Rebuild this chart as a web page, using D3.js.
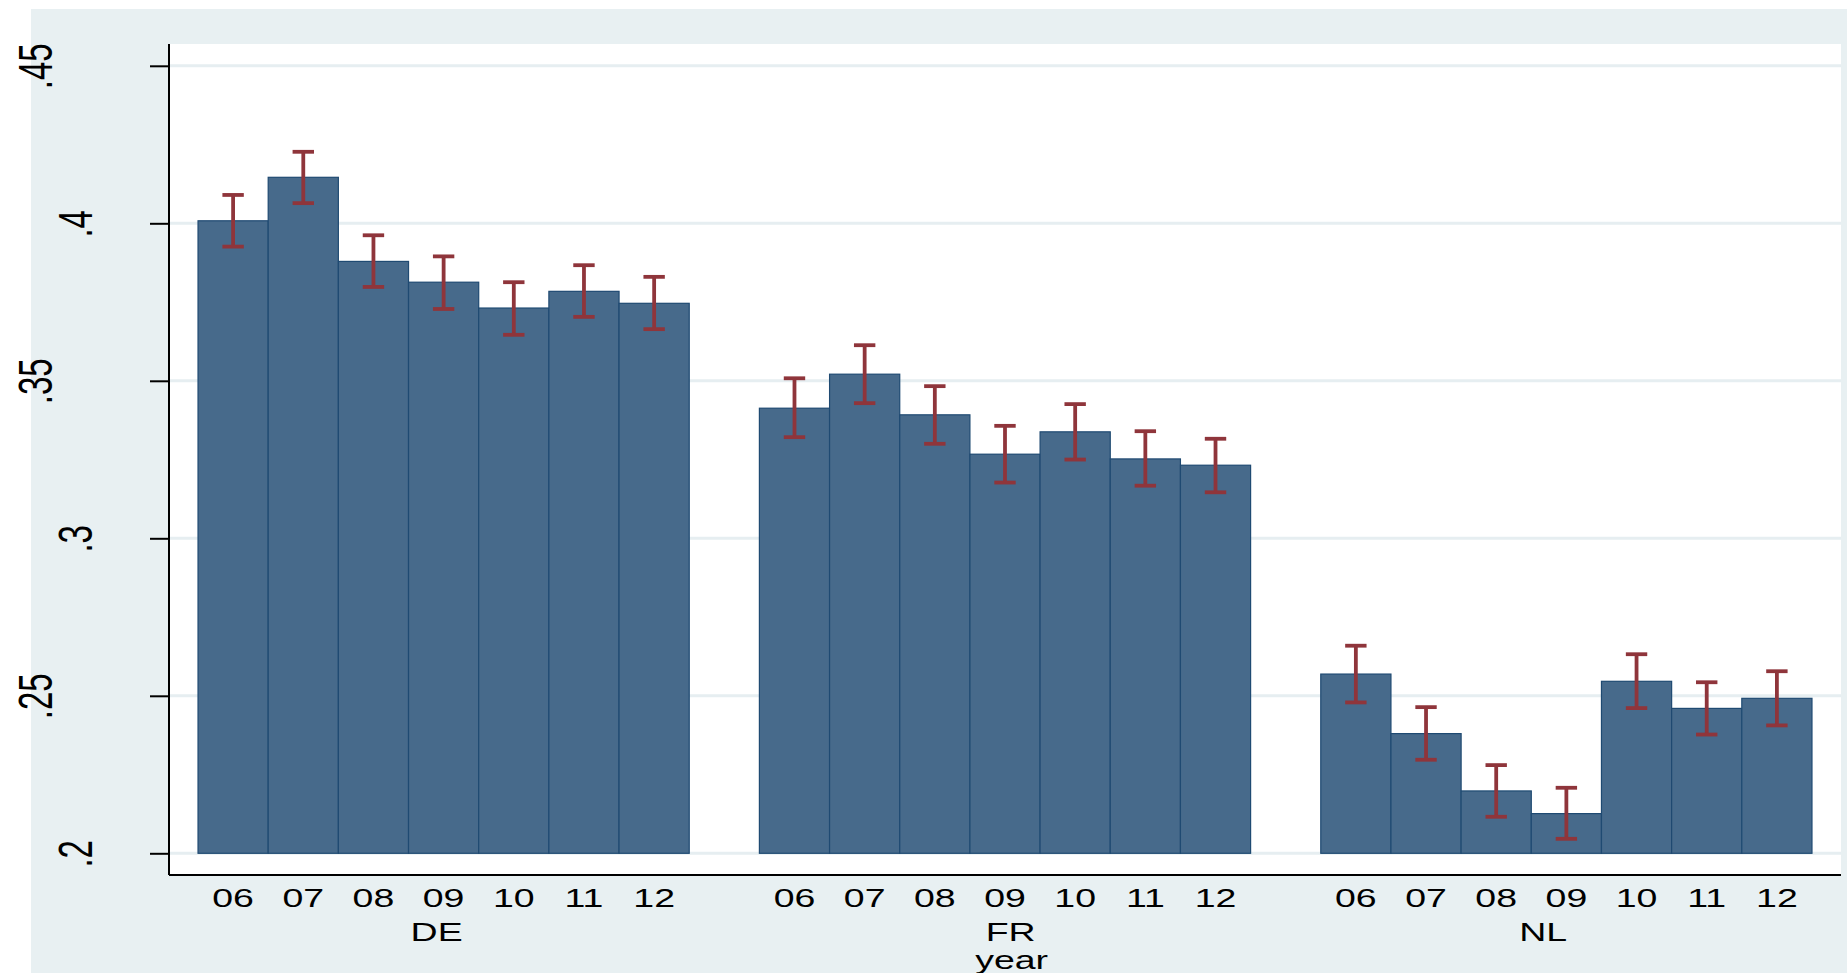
<!DOCTYPE html>
<html>
<head>
<meta charset="utf-8">
<script src="https://cdn.jsdelivr.net/npm/d3@7/dist/d3.min.js"></script>
<style>
  html, body { margin: 0; padding: 0; background: #ffffff; }
  svg { display: block; }
  text { font-family: "Liberation Sans", Arial, Helvetica, sans-serif; fill: #000; }
</style>
</head>
<body>
<svg id="chart" width="1847" height="973"></svg>
<script>
// Country groups and survey years
const countries = ["DE", "FR", "NL"];
const years = ["06", "07", "08", "09", "10", "11", "12"];

// Group means per year
const meanDE = [0.4008, 0.4146, 0.3879, 0.3813, 0.3731, 0.3784, 0.3746];
const meanFR = [0.3413, 0.3521, 0.3392, 0.3267, 0.3338, 0.3252, 0.3232];
const meanNL = [0.2569, 0.2380, 0.2198, 0.2126, 0.2546, 0.2460, 0.2492];

// Lower and upper confidence bounds
const lowDE = [0.3926, 0.4064, 0.3798, 0.3728, 0.3646, 0.3703, 0.3664];
const highDE = [0.4090, 0.4227, 0.3962, 0.3895, 0.3813, 0.3867, 0.3830];
const lowFR = [0.3321, 0.3429, 0.3300, 0.3177, 0.3250, 0.3167, 0.3146];
const highFR = [0.3508, 0.3613, 0.3483, 0.3357, 0.3426, 0.3340, 0.3316];
const lowNL = [0.2479, 0.2297, 0.2116, 0.2046, 0.2461, 0.2377, 0.2406];
const highNL = [0.2659, 0.2464, 0.2280, 0.2208, 0.2632, 0.2543, 0.2578];

// Y axis ticks and their labels
const yTicks = [0.2, 0.25, 0.3, 0.35, 0.4, 0.45];
const yTickLabels = [".2", ".25", ".3", ".35", ".4", ".45"];
const xTitle = "year";

const byCountry = {
  DE: { mean: meanDE, low: lowDE, high: highDE },
  FR: { mean: meanFR, low: lowFR, high: highFR },
  NL: { mean: meanNL, low: lowNL, high: highNL }
};
const rows = [];
countries.forEach(c => {
  years.forEach((yr, i) => {
    rows.push({ country: c, year: yr, mean: byCountry[c].mean[i], low: byCountry[c].low[i], high: byCountry[c].high[i] });
  });
});

// ---- layout ----
const W = 1847, H = 973;
const bg = { x: 31, y: 9 };
const plot = { left: 169, right: 1841, top: 44, bottom: 875 };
const colors = {
  region: "#e8f0f2",
  grid: "#e6eef1",
  barFill: "#476a8b",
  barStroke: "#1f4a72",
  ci: "#8f353b"
};
const textStretch = 1.5;

const svg = d3.select("#chart");

// outer graph region and white plot region
svg.append("rect").attr("x", bg.x).attr("y", bg.y).attr("width", W - bg.x).attr("height", H - bg.y).attr("fill", colors.region);
svg.append("rect").attr("x", plot.left).attr("y", plot.top)
  .attr("width", plot.right - plot.left).attr("height", plot.bottom - plot.top).attr("fill", "#ffffff");

// scales
const y = d3.scaleLinear().domain([0.2, 0.45]).range([853.3, 65.8]);
const xGroup = d3.scaleBand().domain(countries)
  .range([plot.left, plot.right])
  .paddingInner(1 / 8)
  .paddingOuter(0.0517);
const xYear = d3.scaleBand().domain(years).range([0, xGroup.bandwidth()]).padding(0);
const barX = d => xGroup(d.country) + xYear(d.year);

// horizontal grid lines
svg.append("g").selectAll("line").data(yTicks).join("line")
  .attr("x1", plot.left).attr("x2", plot.right)
  .attr("y1", d => y(d)).attr("y2", d => y(d))
  .attr("stroke", colors.grid).attr("stroke-width", 3);

// bars
svg.append("g").selectAll("rect").data(rows).join("rect")
  .attr("x", d => barX(d))
  .attr("width", xYear.bandwidth())
  .attr("y", d => y(d.mean))
  .attr("height", d => y(0.2) - y(d.mean))
  .attr("fill", colors.barFill)
  .attr("stroke", colors.barStroke)
  .attr("stroke-width", 1.2);

// confidence intervals
const capHalf = 10.7;
const ci = svg.append("g").attr("stroke", colors.ci).attr("stroke-width", 3.8).attr("fill", "none");
ci.selectAll("line.stem").data(rows).join("line").attr("class", "stem")
  .attr("x1", d => barX(d) + xYear.bandwidth() / 2).attr("x2", d => barX(d) + xYear.bandwidth() / 2)
  .attr("y1", d => y(d.low)).attr("y2", d => y(d.high));
ci.selectAll("line.capTop").data(rows).join("line").attr("class", "capTop")
  .attr("x1", d => barX(d) + xYear.bandwidth() / 2 - capHalf).attr("x2", d => barX(d) + xYear.bandwidth() / 2 + capHalf)
  .attr("y1", d => y(d.high)).attr("y2", d => y(d.high));
ci.selectAll("line.capBot").data(rows).join("line").attr("class", "capBot")
  .attr("x1", d => barX(d) + xYear.bandwidth() / 2 - capHalf).attr("x2", d => barX(d) + xYear.bandwidth() / 2 + capHalf)
  .attr("y1", d => y(d.low)).attr("y2", d => y(d.low));

// y axis: ticks and rotated labels
const yAxis = d3.axisLeft(y).tickValues(yTicks).tickSize(19).tickSizeOuter(0)
  .tickFormat((d, i) => yTickLabels[i]);
const gy = svg.append("g").attr("transform", `translate(${plot.left},0)`).call(yAxis);
gy.select(".domain").remove();
gy.selectAll(".tick line").attr("stroke", "#000").attr("stroke-width", 2);
gy.selectAll(".tick text")
  .attr("x", null).attr("dy", null)
  .attr("text-anchor", "middle")
  .attr("font-size", 33)
  .attr("transform", (d, i) => {
    const baseX = 91.5 - (yTickLabels[i].length - 2) * 39.4 - plot.left;
    return `translate(${baseX},0) scale(${textStretch * 0.975},1) rotate(-90)`;
  });

// axis lines
svg.append("line").attr("x1", plot.left).attr("x2", plot.left).attr("y1", plot.top).attr("y2", plot.bottom)
  .attr("stroke", "#000").attr("stroke-width", 2);
svg.append("line").attr("x1", plot.left).attr("x2", plot.right).attr("y1", plot.bottom).attr("y2", plot.bottom)
  .attr("stroke", "#000").attr("stroke-width", 2);

// year labels under each bar
svg.append("g").selectAll("text").data(rows).join("text")
  .attr("text-anchor", "middle")
  .attr("font-size", 25)
  .attr("transform", d => `translate(${barX(d) + xYear.bandwidth() / 2},906.5) scale(${textStretch},1)`)
  .text(d => d.year);

// country labels (nudged in bar widths)
const labelNudge = { DE: -0.1, FR: 0.08, NL: -0.33 };
const groupLabelX = c => xGroup(c) + xGroup.bandwidth() / 2 + labelNudge[c] * xYear.bandwidth();
svg.append("g").selectAll("text").data(countries).join("text")
  .attr("text-anchor", "middle")
  .attr("font-size", 25)
  .attr("transform", c => `translate(${groupLabelX(c)},940.5) scale(${textStretch},1)`)
  .text(c => c);

// axis title
svg.append("text")
  .attr("text-anchor", "middle")
  .attr("font-size", 25)
  .attr("transform", `translate(${groupLabelX(countries[1]) + 1},969) scale(${textStretch},1)`)
  .text(xTitle);
</script>
</body>
</html>
